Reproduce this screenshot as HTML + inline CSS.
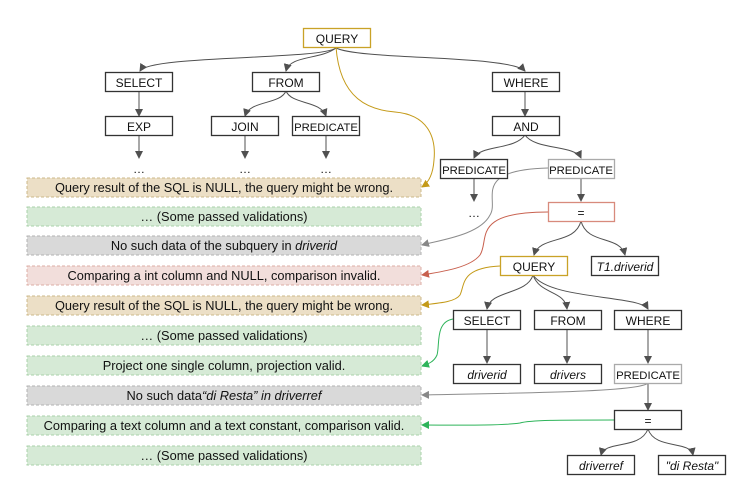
<!DOCTYPE html>
<html><head><style>
body{margin:0;background:#fff;}
svg{display:block;font-family:"Liberation Sans",sans-serif;}
</style></head><body>
<svg width="750" height="500" viewBox="0 0 750 500" xmlns="http://www.w3.org/2000/svg">
<defs>
<marker id="ag" markerWidth="8" markerHeight="8" refX="7" refY="4" orient="auto" markerUnits="userSpaceOnUse"><path d="M0,0 L8,4 L0,8 z" fill="#505050"/></marker>
<marker id="ay" markerWidth="8" markerHeight="8" refX="7" refY="4" orient="auto" markerUnits="userSpaceOnUse"><path d="M0,0 L8,4 L0,8 z" fill="#c49a18"/></marker>
<marker id="ar" markerWidth="8" markerHeight="8" refX="7" refY="4" orient="auto" markerUnits="userSpaceOnUse"><path d="M0,0 L8,4 L0,8 z" fill="#c8604e"/></marker>
<marker id="agr" markerWidth="8" markerHeight="8" refX="7" refY="4" orient="auto" markerUnits="userSpaceOnUse"><path d="M0,0 L8,4 L0,8 z" fill="#888"/></marker>
<marker id="agn" markerWidth="8" markerHeight="8" refX="7" refY="4" orient="auto" markerUnits="userSpaceOnUse"><path d="M0,0 L8,4 L0,8 z" fill="#2eb45a"/></marker>
</defs>

<g stroke-dasharray="3,2" stroke-width="1">
<rect x="27" y="178" width="394" height="19" fill="#ecdfc6" stroke="#cdb88a"/>
<rect x="27" y="207" width="394" height="19" fill="#d6ead6" stroke="#a9d1a9"/>
<rect x="27" y="236" width="394" height="19" fill="#d9d9d9" stroke="#b2b2b2"/>
<rect x="27" y="266" width="394" height="19" fill="#f2dedb" stroke="#dcaea6"/>
<rect x="27" y="296" width="394" height="19" fill="#ecdfc6" stroke="#cdb88a"/>
<rect x="27" y="326" width="394" height="19" fill="#d6ead6" stroke="#a9d1a9"/>
<rect x="27" y="356" width="394" height="19" fill="#d6ead6" stroke="#a9d1a9"/>
<rect x="27" y="386" width="394" height="19" fill="#d9d9d9" stroke="#b2b2b2"/>
<rect x="27" y="416" width="394" height="19" fill="#d6ead6" stroke="#a9d1a9"/>
<rect x="27" y="446" width="394" height="19" fill="#d6ead6" stroke="#a9d1a9"/>
</g>
<g font-size="12.8" text-anchor="middle" fill="#111">
<text x="224" y="192">Query result of the SQL is NULL, the query might be wrong.</text>
<text x="224" y="221">… (Some passed validations)</text>
<text x="224" y="250">No such data of the subquery in <tspan font-style="italic">driverid</tspan></text>
<text x="224" y="280">Comparing a int column and NULL, comparison invalid.</text>
<text x="224" y="310">Query result of the SQL is NULL, the query might be wrong.</text>
<text x="224" y="340">… (Some passed validations)</text>
<text x="224" y="370">Project one single column, projection valid.</text>
<text x="224" y="400">No such data<tspan font-style="italic">“di Resta” in driverref</tspan></text>
<text x="224" y="430">Comparing a text column and a text constant, comparison valid.</text>
<text x="224" y="460">… (Some passed validations)</text>
</g>

<g fill="none" stroke="#505050" stroke-width="1" marker-end="url(#ag)">
<path d="M336 48 C320 60, 150 55, 140 71"/>
<path d="M336 48 C320 60, 290 55, 286 71"/>
<path d="M336 48 C360 60, 510 55, 525 71"/>
<path d="M139 91 L139 116"/>
<path d="M286 91 C280 105, 250 100, 245 116"/>
<path d="M286 91 C292 105, 320 100, 326 116"/>
<path d="M139 135 L139 158"/>
<path d="M245 135 L245 158"/>
<path d="M326 135 L326 158"/>
<path d="M525 91 L525 116"/>
<path d="M525 135 C515 150, 480 145, 474 158"/>
<path d="M525 135 C535 150, 575 145, 581 158"/>
<path d="M474 178 L474 201"/>
<path d="M581 178 L581 201"/>
<path d="M581 221 C575 245, 540 235, 534 255"/>
<path d="M581 221 C587 245, 620 235, 625 255"/>
<path d="M533 275 C527 295, 490 290, 487 309"/>
<path d="M533 275 C540 295, 565 290, 567 309"/>
<path d="M533 275 C550 300, 640 295, 648 309"/>
<path d="M487 329 L487 363"/>
<path d="M567 329 L567 363"/>
<path d="M648 329 L648 363"/>
<path d="M648 383 L648 410"/>
<path d="M648 429 C640 450, 605 440, 601 455"/>
<path d="M648 429 C655 450, 690 440, 693 455"/>
</g>

<g fill="none" stroke-width="1">
<path d="M336 47 C340 100, 370 110, 395 112 C430 115, 436 140, 434 160 C433 175, 428 183, 422 187" stroke="#c49a18" marker-end="url(#ay)"/>
<path d="M548 168 C470 170, 500 200, 490 215 C480 235, 440 240, 422 245" stroke="#8c8c8c" marker-end="url(#agr)"/>
<path d="M548 212 C470 212, 490 240, 480 255 C470 268, 440 272, 422 275" stroke="#c8604e" marker-end="url(#ar)"/>
<path d="M500 266 C460 268, 465 285, 460 295 C455 302, 440 303, 422 305" stroke="#c49a18" marker-end="url(#ay)"/>
<path d="M453 319 C435 322, 440 345, 437 355 C434 362, 428 364, 422 366" stroke="#2eb45a" marker-end="url(#agn)"/>
<path d="M648 383 C640 392, 520 393, 422 395" stroke="#8c8c8c" marker-end="url(#agr)"/>
<path d="M614 420 C560 420, 530 420, 520 423 C500 426, 450 425, 422 425" stroke="#2eb45a" marker-end="url(#agn)"/>
</g>

<g fill="#fff" stroke-width="1.3">
<rect x="303.5" y="28.5" width="67" height="19" stroke="#c9a227"/>
<rect x="105.5" y="72.5" width="67" height="19" stroke="#333"/>
<rect x="252.5" y="72.5" width="67" height="19" stroke="#333"/>
<rect x="492.5" y="72.5" width="67" height="19" stroke="#333"/>
<rect x="105.5" y="116.5" width="67" height="19" stroke="#333"/>
<rect x="211.5" y="116.5" width="67" height="19" stroke="#333"/>
<rect x="292.5" y="116.5" width="67" height="19" stroke="#333"/>
<rect x="492.5" y="116.5" width="67" height="19" stroke="#333"/>
<rect x="440.5" y="159.5" width="67" height="19" stroke="#333"/>
<rect x="548.5" y="159.5" width="66" height="19" stroke="#aaa"/>
<rect x="548.5" y="202.5" width="66" height="19" stroke="#d88a7c"/>
<rect x="500.5" y="256.5" width="67" height="19" stroke="#c9a227"/>
<rect x="591.5" y="256.5" width="67" height="19" stroke="#333"/>
<rect x="453.5" y="310.5" width="67" height="19" stroke="#333"/>
<rect x="534.5" y="310.5" width="67" height="19" stroke="#333"/>
<rect x="614.5" y="310.5" width="67" height="19" stroke="#333"/>
<rect x="453.5" y="364.5" width="67" height="19" stroke="#333"/>
<rect x="534.5" y="364.5" width="67" height="19" stroke="#333"/>
<rect x="614.5" y="364.5" width="67" height="19" stroke="#aaa"/>
<rect x="614.5" y="410.5" width="67" height="19" stroke="#333"/>
<rect x="567.5" y="455.5" width="67" height="19" stroke="#333"/>
<rect x="658.5" y="455.5" width="67" height="19" stroke="#333"/>
</g>
<g font-size="12" text-anchor="middle" fill="#111">
<text x="337" y="43">QUERY</text>
<text x="139" y="87">SELECT</text>
<text x="286" y="87">FROM</text>
<text x="526" y="87">WHERE</text>
<text x="139" y="131">EXP</text>
<text x="245" y="131">JOIN</text>
<text x="326" y="131" font-size="11.3">PREDICATE</text>
<text x="526" y="131">AND</text>
<text x="474" y="174" font-size="11.3">PREDICATE</text>
<text x="581" y="174" font-size="11.3">PREDICATE</text>
<text x="581" y="217">=</text>
<text x="534" y="271">QUERY</text>
<text x="625" y="271" font-style="italic">T1.driverid</text>
<text x="487" y="325">SELECT</text>
<text x="568" y="325">FROM</text>
<text x="648" y="325">WHERE</text>
<text x="487" y="379" font-style="italic">driverid</text>
<text x="568" y="379" font-style="italic">drivers</text>
<text x="648" y="379" font-size="11.3">PREDICATE</text>
<text x="648" y="425">=</text>
<text x="601" y="470" font-style="italic">driverref</text>
<text x="692" y="470" font-style="italic">"di Resta"</text>
<text x="139" y="173">…</text>
<text x="245" y="173">…</text>
<text x="326" y="173">…</text>
<text x="474" y="217">…</text>
</g>
</svg>
</body></html>
